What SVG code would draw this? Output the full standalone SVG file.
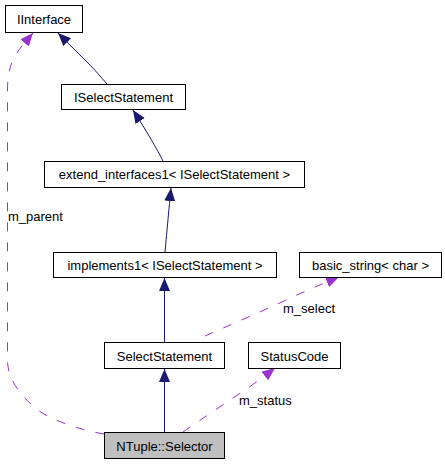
<svg xmlns="http://www.w3.org/2000/svg" width="445" height="464" viewBox="0 0 445 464">
<defs>
<style>
.box{fill:#ffffff;stroke:#000000;stroke-width:1}
.cur{fill:#bfbfbf;stroke:#000000;stroke-width:1}
.lbl{font-family:"Liberation Sans",Arial,sans-serif;font-size:13px;fill:#000000;text-anchor:middle}
.elbl{font-family:"Liberation Sans",Arial,sans-serif;font-size:13px;fill:#000000}
.inh{fill:none;stroke:#191970;stroke-width:1}
.use{fill:none;stroke:#9a32cd;stroke-width:1;stroke-dasharray:9,11}
</style>
<marker id="ah" markerUnits="userSpaceOnUse" markerWidth="14" markerHeight="12" refX="13" refY="5.5" orient="auto">
<path d="M0,0 L13,5.5 L0,11 Z" fill="#191970"/>
</marker>
<marker id="ap" markerUnits="userSpaceOnUse" markerWidth="14" markerHeight="12" refX="13" refY="5.5" orient="auto">
<path d="M0,0 L13,5.5 L0,11 Z" fill="#9a32cd"/>
</marker>
</defs>
<rect width="445" height="464" fill="#ffffff"/>
<g id="edges">
<path class="inh" d="M107,84 C100,76 95,70 88,63 L58,33" marker-end="url(#ah)"/>
<path class="inh" d="M163,161 C158,151 146,130 133,110" marker-end="url(#ah)"/>
<path class="inh" d="M165,252 C167,230 169,208 171,188" marker-end="url(#ah)"/>
<path class="inh" d="M164.5,342 L164.5,278" marker-end="url(#ah)"/>
<path class="inh" d="M164.5,432 L164.5,369" marker-end="url(#ah)"/>
<path class="use" d="M205,336 C230,325 265,310 297,295 C310,289 322,284 339,277" marker-end="url(#ap)"/>
<path class="use" d="M183,432 C200,420 230,400 248,388 C258,381 266,375 275,368" marker-end="url(#ap)"/>
<path class="use" d="M104,434 C80,430 50,420 35,408 C15,390 7.5,375 7.5,360 L7.5,90 C7.5,70 12,58 22,46 L33,33" marker-end="url(#ap)"/>
<text class="elbl" x="283" y="313">m_select</text>
<text class="elbl" x="239" y="405">m_status</text>
<text class="elbl" x="8" y="221">m_parent</text>
</g>
<g id="IInterface"><rect class="box" x="5.5" y="5.5" width="77" height="27"/><text class="lbl" x="44" y="24">IInterface</text></g>
<g id="ISelectStatement"><rect class="box" x="61.5" y="84.5" width="124" height="25"/><text class="lbl" x="123.5" y="101.5">ISelectStatement</text></g>
<g id="extend_interfaces1"><rect class="box" x="44.5" y="161.5" width="260" height="26"/><text class="lbl" x="174.5" y="179">extend_interfaces1&lt; ISelectStatement &gt;</text></g>
<g id="implements1"><rect class="box" x="53.5" y="252.5" width="223" height="25"/><text class="lbl" x="165" y="269.5">implements1&lt; ISelectStatement &gt;</text></g>
<g id="basic_string"><rect class="box" x="299.5" y="252.5" width="142" height="25"/><text class="lbl" x="370.5" y="269.5">basic_string&lt; char &gt;</text></g>
<g id="SelectStatement"><rect class="box" x="104.5" y="342.5" width="120" height="26"/><text class="lbl" x="164.5" y="360.5">SelectStatement</text></g>
<g id="StatusCode"><rect class="box" x="248.5" y="342.5" width="92" height="26"/><text class="lbl" x="294.5" y="360.5">StatusCode</text></g>
<g id="NTuple_Selector"><rect class="cur" x="104.5" y="432.5" width="120" height="26"/><text class="lbl" x="164.5" y="450.5">NTuple::Selector</text></g>
</svg>
